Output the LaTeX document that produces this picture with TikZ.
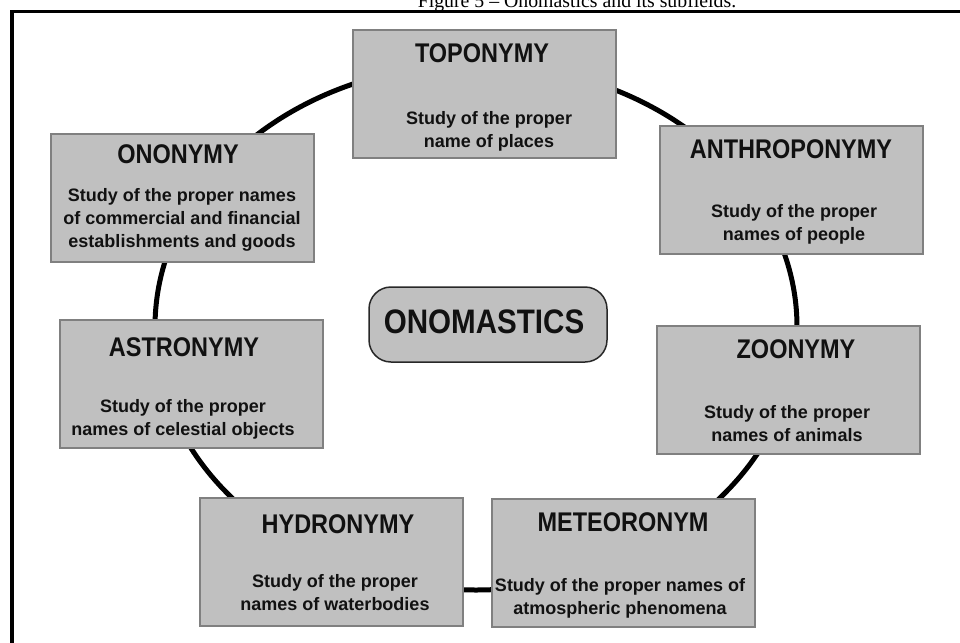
\documentclass[tikz,border=0pt]{standalone}
\usepackage{fontspec}
\setmainfont{Liberation Sans}
\newfontfamily\headfont{Liberation Sans}[FakeStretch=0.87]
\newfontfamily\capfont{Liberation Serif}
\definecolor{boxfill}{RGB}{192,192,192}
\definecolor{boxedge}{RGB}{128,128,128}
\definecolor{hubedge}{RGB}{40,40,40}
\definecolor{inktext}{RGB}{17,17,17}
\begin{document}
\begin{tikzpicture}[x=1pt,y=-1pt,
  subbox/.style={draw=boxedge, fill=boxfill, line width=1.6pt,
    minimum width=263pt, minimum height=128pt, inner sep=0pt, anchor=north west},
  hubbox/.style={draw=hubedge, fill=boxfill, line width=1.5pt, rounded corners=22pt,
    minimum width=238pt, minimum height=75pt, inner sep=0pt},
  headtext/.style={inner sep=0pt, text=inktext, font=\headfont\bfseries\fontsize{27}{30}\selectfont},
  hubtext/.style={inner sep=0pt, text=inktext, font=\headfont\bfseries\fontsize{34}{40}\selectfont},
  % base anchor of a multi-line node sits on its last line
  bodytext/.style={inner sep=0pt, anchor=base, align=center, text=inktext,
    font=\bfseries\fontsize{18}{23}\selectfont},
  ring/.style={draw=black, line width=5pt},
  frameline/.style={draw=black, line width=3.5pt}]
\useasboundingbox (0,0) rectangle (960,642);

% caption above the frame
\node[inner sep=0pt, anchor=base, font=\capfont\fontsize{19.8}{22}\selectfont] (caption) at (577,8)
  {Figure 5 – Onomastics and its subfields.};

% open frame: left and top sides
\draw[frameline] (12,650) -- (12,11.5) -- (970,11.5);

% ring linking the subfields
\coordinate (ringc) at (476,327);
\draw[ring] (ringc) ellipse [x radius=321, y radius=263];

% subfield boxes
\node[subbox] (topo)   at (352,29)  {};
\node[subbox] (anthro) at (659,125) {};
\node[subbox] (onony)  at (50,133)  {};
\node[subbox] (astro)  at (59,319)  {};
\node[subbox] (zoo)    at (656,325) {};
\node[subbox] (hydro)  at (199,497) {};
\node[subbox] (meteo)  at (491,498) {};

% central hub
\node[hubbox] (hub) at (488,324.5) {};
\node[hubtext] (hubT) at (484,322) {ONOMASTICS};

% headings
\node[headtext] (topoT)   at (482,53)  {TOPONYMY};
\node[headtext] (anthroT) at (791,149) {ANTHROPONYMY};
\node[headtext] (ononyT)  at (178,154) {ONONYMY};
\node[headtext] (astroT)  at (184,347) {ASTRONYMY};
\node[headtext] (zooT)    at (796,349) {ZOONYMY};
\node[headtext] (hydroT)  at (338,524) {HYDRONYMY};
\node[headtext] (meteoT)  at (623,522) {METEORONYM};

% descriptions
\node[bodytext] (topoB)   at (489,147) {Study of the proper\\name of places};
\node[bodytext] (anthroB) at (794,240) {Study of the proper\\names of people};
\node[bodytext] (ononyB)  at (182,247) {Study of the proper names\\of commercial and financial\\establishments and goods};
\node[bodytext] (astroB)  at (183,435) {Study of the proper\\names of celestial objects};
\node[bodytext] (zooB)    at (787,441) {Study of the proper\\names of animals};
\node[bodytext] (hydroB)  at (335,610) {Study of the proper\\names of waterbodies};
\node[bodytext] (meteoB)  at (620,614) {Study of the proper names of\\atmospheric phenomena};
\end{tikzpicture}
\end{document}
